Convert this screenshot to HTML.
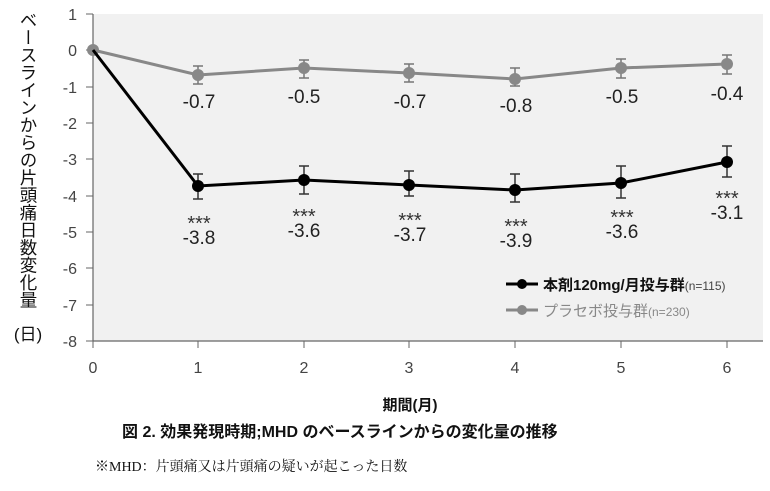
<!DOCTYPE html><html><head><meta charset="utf-8"><style>body{margin:0;background:#fff}svg{display:block}</style></head><body>
<svg width="770" height="491" xmlns="http://www.w3.org/2000/svg" font-family="'Liberation Sans','Noto Sans CJK JP',sans-serif">
<rect x="93" y="14" width="670" height="327" fill="#f1f1f1"/>
<line x1="93" y1="14" x2="93" y2="341" stroke="#666" stroke-width="1.2"/>
<line x1="93" y1="341" x2="763" y2="341" stroke="#666" stroke-width="1.2"/>
<g fill="#444" font-size="16" text-anchor="end">
<text x="77" y="20">1</text><text x="77" y="56">0</text><text x="77" y="93">-1</text><text x="77" y="129">-2</text><text x="77" y="165">-3</text><text x="77" y="202">-4</text><text x="77" y="238">-5</text><text x="77" y="274">-6</text><text x="77" y="311">-7</text><text x="77" y="347">-8</text></g>
<g stroke="#666"><line x1="86" y1="14" x2="93" y2="14"/><line x1="86" y1="50" x2="93" y2="50"/><line x1="86" y1="87" x2="93" y2="87"/><line x1="86" y1="123" x2="93" y2="123"/><line x1="86" y1="159" x2="93" y2="159"/><line x1="86" y1="196" x2="93" y2="196"/><line x1="86" y1="232" x2="93" y2="232"/><line x1="86" y1="268" x2="93" y2="268"/><line x1="86" y1="305" x2="93" y2="305"/><line x1="86" y1="341" x2="93" y2="341"/>
<line x1="93" y1="341" x2="93" y2="348"/><line x1="198" y1="341" x2="198" y2="348"/><line x1="304" y1="341" x2="304" y2="348"/><line x1="409" y1="341" x2="409" y2="348"/><line x1="515" y1="341" x2="515" y2="348"/><line x1="621" y1="341" x2="621" y2="348"/><line x1="727" y1="341" x2="727" y2="348"/></g>
<g fill="#444" font-size="16" text-anchor="middle">
<text x="93" y="373">0</text><text x="198" y="373">1</text><text x="304" y="373">2</text><text x="409" y="373">3</text><text x="515" y="373">4</text><text x="621" y="373">5</text><text x="727" y="373">6</text></g>
<text x="410" y="410" font-size="15" font-weight="bold" text-anchor="middle" fill="#111">期間(月)</text>
<text x="28" y="11" font-size="17.5" fill="#111" style="writing-mode:vertical-rl" text-anchor="start">ベースラインからの片頭痛日数変化量</text>
<text x="28" y="340" font-size="17" fill="#111" text-anchor="middle">(日)</text>
<g stroke="#777" stroke-width="1.5" fill="none">
<path d="M198 66v18M193 66h10M193 84h10M304 60v18M299 60h10M299 78h10M409 64v18M404 64h10M404 82h10M515 68v18M510 68h10M510 86h10M621 59v19M616 59h10M616 78h10M727 55v19M722 55h10M722 74h10"/></g>
<polyline points="93,50 198,75 304,68 409,73 515,79 621,68 727,64" fill="none" stroke="#888" stroke-width="3"/>
<g fill="#888"><circle cx="93" cy="50" r="6"/><circle cx="198" cy="75" r="6"/><circle cx="304" cy="68" r="6"/><circle cx="409" cy="73" r="6"/><circle cx="515" cy="79" r="6"/><circle cx="621" cy="68" r="6"/><circle cx="727" cy="64" r="6"/></g>
<g stroke="#333" stroke-width="1.5" fill="none">
<path d="M198 174v25M193 174h10M193 199h10M304 166v28M299 166h10M299 194h10M409 171v25M404 171h10M404 196h10M515 174v28M510 174h10M510 202h10M621 166v32M616 166h10M616 198h10M727 146v31M722 146h10M722 177h10"/></g>
<polyline points="93,50 198,186 304,180 409,185 515,190 621,183 727,162" fill="none" stroke="#000" stroke-width="3"/>
<g fill="#000"><circle cx="198" cy="186" r="6"/><circle cx="304" cy="180" r="6"/><circle cx="409" cy="185" r="6"/><circle cx="515" cy="190" r="6"/><circle cx="621" cy="183" r="6"/><circle cx="727" cy="162" r="6"/></g>
<g font-size="19" fill="#222" text-anchor="middle">
<text x="199" y="108">-0.7</text><text x="304" y="103">-0.5</text><text x="410" y="108">-0.7</text><text x="516" y="112">-0.8</text><text x="622" y="103">-0.5</text><text x="727" y="100">-0.4</text>
<text x="199" y="244">-3.8</text><text x="304" y="237">-3.6</text><text x="410" y="241">-3.7</text><text x="516" y="247">-3.9</text><text x="622" y="238">-3.6</text><text x="727" y="219">-3.1</text></g>
<g font-size="20" fill="#333" text-anchor="middle">
<text x="199" y="230">***</text><text x="304" y="223">***</text><text x="410" y="227">***</text><text x="516" y="233">***</text><text x="622" y="224">***</text><text x="727" y="205">***</text></g>
<line x1="506" y1="284" x2="538" y2="284" stroke="#000" stroke-width="3"/><circle cx="522" cy="284" r="5" fill="#000"/>
<text x="543" y="290" font-size="15" font-weight="bold" fill="#111">本剤120mg/月投与群<tspan font-size="12" font-weight="normal" fill="#444">(n=115)</tspan></text>
<line x1="506" y1="310" x2="538" y2="310" stroke="#888" stroke-width="3"/><circle cx="522" cy="310" r="5" fill="#888"/>
<text x="543" y="316" font-size="15" fill="#888">プラセボ投与群<tspan font-size="12">(n=230)</tspan></text>
<text x="122" y="437" font-size="16" font-weight="bold" fill="#111">図 2. 効果発現時期;MHD のベースラインからの変化量の推移</text>
<text x="95" y="471" font-size="14" fill="#111" font-family="'Liberation Serif','Noto Serif CJK SC',serif">※MHD：片頭痛又は片頭痛の疑いが起こった日数</text>
</svg></body></html>
